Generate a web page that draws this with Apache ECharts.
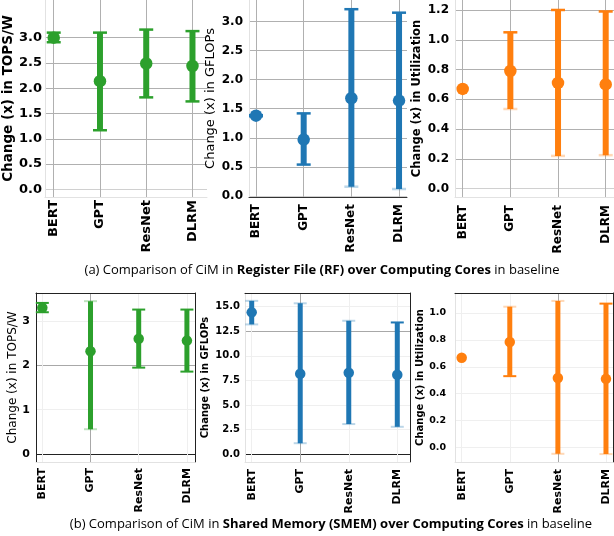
<!DOCTYPE html>
<html>
<head>
<meta charset="utf-8">
<script src="https://cdn.jsdelivr.net/npm/echarts@6/dist/echarts.min.js"></script>
<style>html,body{margin:0;padding:0;background:#fff}#c{width:614px;height:536px}</style>
</head>
<body>
<div id="c"></div>
<script>
// ---------------- DATA ----------------
const categories = ['BERT', 'GPT', 'ResNet', 'DLRM'];

// (a) Register File (RF) over Computing Cores
const rfTopsMean  = [3.00, 2.14, 2.49, 2.44];
const rfTopsLow   = [2.91, 1.17, 1.82, 1.74];
const rfTopsHigh  = [3.10, 3.10, 3.16, 3.13];

const rfGflopsMean = [1.38, 0.97, 1.68, 1.64];
const rfGflopsLow  = [1.37, 0.54, 0.16, 0.12];
const rfGflopsHigh = [1.39, 1.42, 3.21, 3.15];

const rfUtilMean = [0.67, 0.79, 0.71, 0.70];
const rfUtilLow  = [0.67, 0.535, 0.22, 0.225];
const rfUtilHigh = [0.67, 1.05, 1.20, 1.19];

// (b) Shared Memory (SMEM) over Computing Cores
const smTopsMean = [3.30, 2.32, 2.60, 2.56];
const smTopsLow  = [3.20, 0.56, 1.95, 1.86];
const smTopsHigh = [3.41, 3.45, 3.26, 3.26];

const smGflopsMean = [14.43, 8.18, 8.28, 8.08];
const smGflopsLow  = [13.2, 1.1, 3.05, 2.77];
const smGflopsHigh = [15.6, 15.35, 13.57, 13.4];

const smUtilMean = [0.667, 0.784, 0.516, 0.51];
const smUtilLow  = [0.667, 0.53, -0.048, -0.05];
const smUtilHigh = [0.667, 1.047, 1.09, 1.07];

// tick labels
const xTicks = [0, 1, 2, 3];
const rfTopsTicks   = [0, 0.5, 1, 1.5, 2, 2.5, 3];
const rfGflopsTicks = [0, 0.5, 1, 1.5, 2, 2.5, 3];
const rfUtilTicks   = [0, 0.2, 0.4, 0.6, 0.8, 1.0, 1.2];
const smTopsTicks   = [0, 1, 2, 3];
const smGflopsTicks = [0, 2.5, 5, 7.5, 10, 12.5, 15];
const smUtilTicks   = [0, 0.2, 0.4, 0.6, 0.8, 1.0];

const yNames = {
  tops: 'Change (x) in TOPS/W',
  gflops: 'Change (x) in GFLOPs',
  util: 'Change (x) in Utilization'
};

// ---------------- LAYOUT / STYLE ----------------
const GREEN = '#2ca02c', BLUE = '#1f77b4', ORANGE = '#ff7f0e';
const FONT = 'DejaVu Sans';

const panels = [
  { mean: rfTopsMean, low: rfTopsLow, high: rfTopsHigh, ticks: rfTopsTicks, name: yNames.tops, color: GREEN,
    grid: {left: 40, top: -24, width: 167, height: 221}, x: [-0.19, 3.314], y: [-0.15, 3.745],
    dec: 1, tickSize: 13, xSize: 13, nameSize: 13.5, nameWeight: 'bold', nameGap: 21, yMargin: 3, xMargin: 3,
    row: 0, fadeLow: [0,0,0,0], fadeHigh: [0,0,0,0], marker: 12.5, whisker: 6, cap: 14, capW: 2.5 },
  { mean: rfGflopsMean, low: rfGflopsLow, high: rfGflopsHigh, ticks: rfGflopsTicks, name: yNames.gflops, color: BLUE,
    grid: {left: 249, top: 0, width: 158, height: 197}, x: [-0.147, 3.167], y: [-0.017, 3.368],
    dec: 1, tickSize: 12, xSize: 12, nameSize: 13, nameWeight: 'normal', nameGap: 32, yMargin: 6, xMargin: 7,
    row: 0, bottomDark: true, fadeLow: [0,0,1,1], fadeHigh: [0,0,0,0], marker: 12.5, whisker: 6, cap: 14, capW: 2.5 },
  { mean: rfUtilMean, low: rfUtilLow, high: rfUtilHigh, ticks: rfUtilTicks, name: yNames.util, color: ORANGE,
    grid: {left: 455, top: 0, width: 159, height: 197}, x: [-0.161, 3.174], y: [-0.056, 1.267],
    dec: 1, tickSize: 12, xSize: 12, nameSize: 11.5, nameWeight: 'bold', nameGap: 32, yMargin: 6, xMargin: 8,
    row: 0, fadeLow: [0,1,1,1], fadeHigh: [0,0,0,0], marker: 12.5, whisker: 6, cap: 14, capW: 2.5 },
  { mean: smTopsMean, low: smTopsLow, high: smTopsHigh, ticks: smTopsTicks, name: yNames.tops, color: GREEN,
    grid: {left: 36, top: 293, width: 159, height: 169}, x: [-0.131, 3.168], y: [-0.18, 3.634],
    dec: 0, tickSize: 11, xSize: 11, nameSize: 12, nameWeight: 'normal', nameGap: 16, yMargin: 6, xMargin: 6,
    row: 1, leftDark: true, zeroDark: true, darkX: 1, darkY: 2,
    fadeLow: [0,1,0,0], fadeHigh: [0,1,0,0], marker: 10.5, whisker: 5, cap: 13, capW: 2 },
  { mean: smGflopsMean, low: smGflopsLow, high: smGflopsHigh, ticks: smGflopsTicks, name: yNames.gflops, color: BLUE,
    grid: {left: 245, top: 293, width: 165, height: 169}, x: [-0.138, 3.262], y: [-0.815, 16.4],
    dec: 1, tickSize: 10, xSize: 11, nameSize: 10, nameWeight: 'bold', nameGap: 35, yMargin: 5, xMargin: 7,
    row: 1, zeroDark: true, darkX: 1, darkY: 12.5,
    fadeLow: [1,1,1,1], fadeHigh: [1,1,1,0], marker: 10.5, whisker: 5, cap: 13, capW: 2 },
  { mean: smUtilMean, low: smUtilLow, high: smUtilHigh, ticks: smUtilTicks, name: yNames.util, color: ORANGE,
    grid: {left: 455, top: 293, width: 158, height: 169}, x: [-0.139, 3.146], y: [-0.109, 1.149],
    dec: 1, tickSize: 9.5, xSize: 11, nameSize: 10, nameWeight: 'bold', nameGap: 28, yMargin: 9, xMargin: 7,
    row: 1, darkX: 2, darkY: null,
    fadeLow: [0,0,1,1], fadeHigh: [0,1,1,0], marker: 10.5, whisker: 5, cap: 13, capW: 2 }
];

function hexA(hex, a) {
  const n = parseInt(hex.slice(1), 16);
  return `rgba(${(n >> 16) & 255},${(n >> 8) & 255},${n & 255},${a})`;
}

const grids = [], xAxes = [], yAxes = [], series = [];
panels.forEach((p, i) => {
  grids.push(Object.assign({ show: false, containLabel: false }, p.grid));
  const top = p.row === 0;
  const faint = '#efefef', mid = '#b0b0b0';
  const xLineColors = top ? [mid] : xTicks.map(t => t === p.darkX ? '#a8a8a8' : faint);
  const yLineColors = top ? p.ticks.map(t => t === 0 ? '#d0d0d0' : mid)
                          : p.ticks.map(t => (t === 0 && p.zeroDark) ? '#222' : (t === p.darkY ? '#a8a8a8' : faint));
  xAxes.push({
    gridIndex: i, type: 'value', min: p.x[0], max: p.x[1], position: 'bottom',
    axisLine: { show: true, onZero: false, lineStyle: { color: p.bottomDark ? '#333' : '#e2e2e2', width: 1 } },
    axisTick: { show: false, customValues: xTicks },
    axisLabel: { customValues: xTicks, formatter: v => categories[Math.round(v)], rotate: 90,
      margin: p.xMargin, fontFamily: FONT, fontWeight: 'bold', fontSize: p.xSize, color: '#000' },
    splitLine: { show: true, lineStyle: { color: xLineColors, width: 1 } }
  });
  yAxes.push({
    gridIndex: i, type: 'value', min: p.y[0], max: p.y[1], position: 'left',
    name: p.name, nameLocation: 'middle', nameGap: p.nameGap, nameRotate: 90,
    nameTextStyle: { fontFamily: FONT, fontWeight: p.nameWeight, fontSize: p.nameSize, color: '#000' },
    axisLine: { show: true, onZero: false, lineStyle: { color: p.leftDark ? '#222' : '#e2e2e2', width: 1 } },
    axisTick: { show: false, customValues: p.ticks },
    axisLabel: { customValues: p.ticks, formatter: v => v.toFixed(p.dec), margin: p.yMargin,
      fontFamily: FONT, fontWeight: 'bold', fontSize: p.tickSize, color: '#000' },
    splitLine: { show: true, lineStyle: { color: yLineColors, width: 1 } }
  });
  const xi = xAxes.length - 1, yi = yAxes.length - 1;
  if (!top) {
    xAxes.push({ gridIndex: i, type: 'value', min: p.x[0], max: p.x[1], position: 'top',
      axisLine: { show: true, onZero: false, lineStyle: { color: '#222', width: 1 } },
      axisTick: { show: false }, axisLabel: { show: false }, splitLine: { show: false } });
    yAxes.push({ gridIndex: i, type: 'value', min: p.y[0], max: p.y[1], position: 'right',
      axisLine: { show: true, onZero: false, lineStyle: { color: '#222', width: 1 } },
      axisTick: { show: false }, axisLabel: { show: false }, splitLine: { show: false } });
  }
  const errData = categories.map((c, k) => [k, p.low[k], p.high[k], p.fadeLow[k], p.fadeHigh[k]]);
  series.push({
    type: 'custom', xAxisIndex: xi, yAxisIndex: yi, z: 2, clip: false,
    data: errData,
    renderItem: (params, api) => {
      const x = api.value(0);
      if (api.value(1) === api.value(2)) return { type: 'group', children: [] };
      const lo = api.coord([x, api.value(1)]);
      const hi = api.coord([x, api.value(2)]);
      const solid = p.color, pale = hexA(p.color, 0.3);
      const h = p.cap / 2;
      return { type: 'group', children: [
        { type: 'line', shape: { x1: lo[0], y1: lo[1], x2: hi[0], y2: hi[1] },
          style: { stroke: solid, lineWidth: p.whisker, lineCap: 'butt' } },
        { type: 'line', shape: { x1: hi[0] - h, y1: hi[1], x2: hi[0] + h, y2: hi[1] },
          style: { stroke: api.value(4) ? pale : solid, lineWidth: p.capW } },
        { type: 'line', shape: { x1: lo[0] - h, y1: lo[1], x2: lo[0] + h, y2: lo[1] },
          style: { stroke: api.value(3) ? pale : solid, lineWidth: p.capW } }
      ] };
    }
  });
  series.push({
    type: 'scatter', xAxisIndex: xi, yAxisIndex: yi, z: 3,
    symbol: 'circle', symbolSize: p.marker,
    itemStyle: { color: p.color, opacity: 1 },
    data: categories.map((c, k) => [k, p.mean[k]])
  });
});

const capBase = { fontFamily: 'Open Sans', fontSize: 13, color: '#111' };
const graphic = [
  { type: 'text', x: 322, y: 270, style: {
      text: '{n|(a) Comparison of CiM in }{b|Register File (RF) over Computing Cores}{n| in baseline}',
      align: 'center', verticalAlign: 'middle',
      rich: { n: Object.assign({}, capBase), b: Object.assign({ fontWeight: 'bold' }, capBase) } } },
  { type: 'text', x: 331, y: 524, style: {
      text: '{n|(b) Comparison of CiM in }{b|Shared Memory (SMEM) over Computing Cores}{n| in baseline}',
      align: 'center', verticalAlign: 'middle',
      rich: { n: Object.assign({}, capBase), b: Object.assign({ fontWeight: 'bold' }, capBase) } } }
];

const chart = echarts.init(document.getElementById('c'), null, { renderer: 'canvas' });
chart.setOption({
  animation: false,
  backgroundColor: '#fff',
  grid: grids, xAxis: xAxes, yAxis: yAxes, series: series, graphic: graphic
});
</script>
</body>
</html>
